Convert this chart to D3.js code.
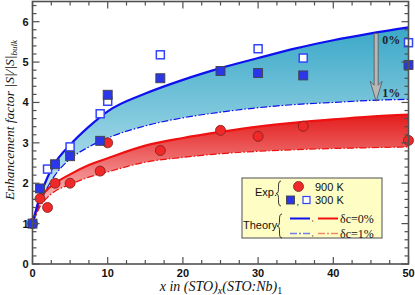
<!DOCTYPE html>
<html>
<head>
<meta charset="utf-8">
<script src="https://cdn.jsdelivr.net/npm/d3@7"></script>
<style>
  body { margin: 0; background: white; }
  svg { display: block; }
</style>
</head>
<body>
<div id="main"></div>
<script>
// measured points
const x900 = [0, 1, 2, 3, 5, 9, 10, 17, 25, 30, 36, 50];
const y900 = [1.0, 1.62, 1.4, 2.0, 2.0, 2.3, 3.0, 2.81, 3.31, 3.16, 3.41, 3.06];
const x300filled = [0, 1, 3, 5, 9, 10, 17, 25, 30, 36, 50];
const y300filled = [1.0, 1.87, 2.47, 2.67, 3.05, 4.19, 4.6, 4.78, 4.73, 4.67, 4.93];
const x300open = [2, 5, 9, 10, 17, 30, 36, 50];
const y300open = [2.35, 2.9, 3.72, 4.03, 5.18, 5.33, 5.1, 5.48];

// theory curves
const xTheory = [0, 1, 2, 3, 5, 7.5, 10, 15, 20, 25, 30, 35, 40, 45, 50];
const blue0 = [1.0, 1.68, 2.15, 2.5, 2.95, 3.4, 3.78, 4.22, 4.56, 4.85, 5.1, 5.34, 5.54, 5.71, 5.86];
const blue1 = [1.0, 1.5, 1.9, 2.2, 2.6, 2.9, 3.12, 3.42, 3.62, 3.76, 3.87, 3.95, 4.0, 4.05, 4.08];
const red0 = [1.0, 1.6, 1.85, 2.0, 2.22, 2.45, 2.62, 2.93, 3.12, 3.27, 3.4, 3.5, 3.58, 3.65, 3.7];
const red1 = [1.0, 1.42, 1.65, 1.8, 1.97, 2.15, 2.28, 2.52, 2.64, 2.73, 2.79, 2.83, 2.86, 2.88, 2.9];

const xTicks = [0, 10, 20, 30, 40, 50];
const yTicks = [0, 1, 2, 3, 4, 5, 6];
const arrowX = 45.7;
const arrowLabels = ["0%", "1%"];

const ctx = {
    width: 415,
    height: 295,
    frame: "#505050",
    blue: "#1010ee",
    red: "#ee1111"
};

function createViz(){
    let svg = d3.select("#main").append("svg")
        .attr("width", ctx.width)
        .attr("height", ctx.height)
        .style("font-family", "'Liberation Sans', Arial, sans-serif");

    let x = d3.scaleLinear().domain([0, 50]).range([32.5, 408.5]);
    let y = d3.scaleLinear().domain([0, 6.5]).range([264, 1.5]);

    let defs = svg.append("defs");
    let gb = defs.append("linearGradient").attr("id", "gradBlue")
        .attr("x1", 0).attr("y1", 0).attr("x2", 0).attr("y2", 1);
    gb.append("stop").attr("offset", "0%").attr("stop-color", "#3aa8c8");
    gb.append("stop").attr("offset", "100%").attr("stop-color", "#d8f0f6");
    let gr = defs.append("linearGradient").attr("id", "gradRed")
        .attr("x1", 0).attr("y1", 0).attr("x2", 0).attr("y2", 1);
    gr.append("stop").attr("offset", "0%").attr("stop-color", "#e41c1c");
    gr.append("stop").attr("offset", "100%").attr("stop-color", "#fde0e0");

    // bands
    let band = (top, bot) => d3.area()
        .x((d, i) => x(xTheory[i]))
        .y0((d, i) => y(bot[i]))
        .y1((d, i) => y(top[i]))
        .curve(d3.curveMonotoneX)(xTheory);
    svg.append("path").attr("d", band(blue0, blue1)).attr("fill", "url(#gradBlue)");
    svg.append("path").attr("d", band(red0, red1)).attr("fill", "url(#gradRed)");

    let line = (vals) => d3.line()
        .x((d, i) => x(xTheory[i]))
        .y((d, i) => y(vals[i]))
        .curve(d3.curveMonotoneX)(xTheory);
    svg.append("path").attr("d", line(blue1)).attr("fill", "none")
        .attr("stroke", ctx.blue).attr("stroke-width", 1.2).attr("stroke-dasharray", "7,2,1.5,2");
    svg.append("path").attr("d", line(red1)).attr("fill", "none")
        .attr("stroke", ctx.red).attr("stroke-width", 1.2).attr("stroke-dasharray", "7,2,1.5,2");
    svg.append("path").attr("d", line(red0)).attr("fill", "none")
        .attr("stroke", ctx.red).attr("stroke-width", 2.2);
    svg.append("path").attr("d", line(blue0)).attr("fill", "none")
        .attr("stroke", ctx.blue).attr("stroke-width", 2.2);

    // arrow between 0% and 1%
    let ia = d3.bisectLeft(xTheory, arrowX);
    let t = (arrowX - xTheory[ia - 1]) / (xTheory[ia] - xTheory[ia - 1]);
    let yTop = blue0[ia - 1] + t * (blue0[ia] - blue0[ia - 1]);
    let yBot = blue1[ia - 1] + t * (blue1[ia] - blue1[ia - 1]);
    let ax = x(arrowX), a0 = y(yTop) + 1, a1 = y(yBot) + 1;
    let arrow = svg.append("g");
    arrow.append("path")
        .attr("d", `M${ax - 2},${a0} L${ax + 2},${a0} L${ax + 2},${a1 - 16} L${ax + 6},${a1 - 20} L${ax},${a1} L${ax - 6},${a1 - 20} L${ax - 2},${a1 - 16} Z`)
        .attr("fill", "#b8b8b8").attr("stroke", "#555").attr("stroke-width", 0.8);
    arrow.selectAll("text").data(arrowLabels).enter().append("text")
        .attr("x", ax + 6)
        .attr("y", (d, i) => i == 0 ? a0 + 10 : a1 - 4)
        .text(d => d)
        .attr("font-family", "'Liberation Serif', 'Times New Roman', serif")
        .attr("font-weight", "bold")
        .attr("font-size", "12px")
        .attr("fill", "#222");

    // points
    svg.selectAll(".c900").data(x900).enter().append("circle")
        .attr("cx", d => x(d)).attr("cy", (d, i) => y(y900[i])).attr("r", 5)
        .attr("fill", "#f02828").attr("stroke", "#7a2020").attr("stroke-width", 0.8);
    svg.selectAll(".o300").data(x300open).enter().append("rect")
        .attr("x", d => x(d) - 4).attr("y", (d, i) => y(y300open[i]) - 4)
        .attr("width", 8).attr("height", 8)
        .attr("fill", "white").attr("stroke", "#3344ff").attr("stroke-width", 1.5);
    svg.selectAll(".f300").data(x300filled).enter().append("rect")
        .attr("x", d => x(d) - 4.5).attr("y", (d, i) => y(y300filled[i]) - 4.5)
        .attr("width", 9).attr("height", 9)
        .attr("fill", "#2a36e8").attr("stroke", "#444").attr("stroke-width", 0.9);

    // frame and ticks
    let axG = svg.append("g").attr("stroke", ctx.frame);
    axG.append("rect").attr("x", x(0)).attr("y", y(6.5))
        .attr("width", x(50) - x(0)).attr("height", y(0) - y(6.5))
        .attr("fill", "none").attr("stroke-width", 1.6);
    let xMinor = d3.range(0, 50.01, 2.5);
    let yMinor = d3.range(0, 6.5, 0.2);
    xMinor.forEach(v => {
        let len = (v % 10 == 0) ? 7 : 4;
        axG.append("line").attr("x1", x(v)).attr("x2", x(v)).attr("y1", y(0)).attr("y2", y(0) - len).attr("stroke-width", 1.2);
        axG.append("line").attr("x1", x(v)).attr("x2", x(v)).attr("y1", y(6.5)).attr("y2", y(6.5) + len).attr("stroke-width", 1.2);
    });
    yMinor.forEach(v => {
        let len = (Math.abs(v - Math.round(v)) < 1e-6) ? 7 : 4;
        axG.append("line").attr("y1", y(v)).attr("y2", y(v)).attr("x1", x(0)).attr("x2", x(0) + len).attr("stroke-width", 1.2);
        axG.append("line").attr("y1", y(v)).attr("y2", y(v)).attr("x1", x(50)).attr("x2", x(50) - len).attr("stroke-width", 1.2);
    });

    svg.selectAll(".xtl").data(xTicks).enter().append("text")
        .attr("x", d => x(d)).attr("y", 277)
        .attr("text-anchor", "middle")
        .attr("font-weight", "bold").attr("font-size", "11px").attr("fill", "#111")
        .text(d => d);
    svg.selectAll(".ytl").data(yTicks).enter().append("text")
        .attr("x", 28.5).attr("y", d => y(d) + 4)
        .attr("text-anchor", "end")
        .attr("font-weight", "bold").attr("font-size", "11px").attr("fill", "#111")
        .text(d => d);

    // axis titles
    let serif = "'Liberation Serif', 'Times New Roman', serif";
    let xl = svg.append("text").attr("x", 221).attr("y", 291)
        .attr("text-anchor", "middle").attr("font-family", serif)
        .attr("font-style", "italic").attr("font-size", "14px").attr("fill", "#111");
    xl.append("tspan").text("x in (STO)");
    xl.append("tspan").attr("font-size", "10px").attr("dy", 3).text("x");
    xl.append("tspan").attr("dy", -3).text("(STO:Nb)");
    xl.append("tspan").attr("font-size", "10px").attr("dy", 3).attr("font-style", "normal").text("1");

    let yl = svg.append("text").attr("transform", "translate(14,120) rotate(-90)")
        .attr("text-anchor", "middle").attr("font-family", serif)
        .attr("font-style", "italic").attr("font-size", "13.5px").attr("fill", "#111");
    yl.append("tspan").text("Enhancement factor |S|/|S|");
    yl.append("tspan").attr("font-size", "9px").attr("dy", 3).text("bulk");

    drawLegend(svg);
}

function brace(x0, yA, yB, w){
    let ym = (yA + yB) / 2;
    return `M${x0 + w},${yA} C${x0},${yA} ${x0 + w},${ym} ${x0},${ym} C${x0 + w},${ym} ${x0},${yB} ${x0 + w},${yB}`;
}

function drawLegend(svg){
    let g = svg.append("g");
    g.append("rect").attr("x", 242).attr("y", 178).attr("width", 140).attr("height", 60)
        .attr("fill", "#fdfdc4").attr("stroke", "#777").attr("stroke-width", 1.3);
    g.append("text").attr("x", 255).attr("y", 196).attr("font-size", "11px").attr("fill", "#111").text("Exp.");
    g.append("path").attr("d", brace(276, 181, 206, 5)).attr("fill", "none").attr("stroke", "#222").attr("stroke-width", 0.9);
    g.append("circle").attr("cx", 298.5).attr("cy", 186.5).attr("r", 5)
        .attr("fill", "#f02828").attr("stroke", "#7a2020").attr("stroke-width", 0.8);
    g.append("text").attr("x", 315).attr("y", 190.5).attr("font-size", "11px").attr("fill", "#111").text("900 K");
    g.append("rect").attr("x", 286.5).attr("y", 196).attr("width", 8).attr("height", 8)
        .attr("fill", "#2a36e8").attr("stroke", "#444").attr("stroke-width", 0.9);
    g.append("text").attr("x", 296.5).attr("y", 205).attr("font-size", "9px").attr("fill", "#111").text(",");
    g.append("rect").attr("x", 303).attr("y", 196.5).attr("width", 7).attr("height", 7)
        .attr("fill", "white").attr("stroke", "#3344ff").attr("stroke-width", 1.2);
    g.append("text").attr("x", 315).attr("y", 204).attr("font-size", "11px").attr("fill", "#111").text("300 K");

    g.append("text").attr("x", 243).attr("y", 229).attr("font-size", "11px").attr("fill", "#111").text("Theory");
    g.append("path").attr("d", brace(277, 214, 238, 5)).attr("fill", "none").attr("stroke", "#222").attr("stroke-width", 0.9);
    let serif = "'Liberation Serif', 'Times New Roman', serif";
    g.append("line").attr("x1", 290).attr("x2", 310).attr("y1", 218.5).attr("y2", 218.5).attr("stroke", ctx.blue).attr("stroke-width", 2);
    g.append("text").attr("x", 311.5).attr("y", 221).attr("font-size", "8px").attr("fill", "#111").text(",");
    g.append("line").attr("x1", 318).attr("x2", 338).attr("y1", 218.5).attr("y2", 218.5).attr("stroke", ctx.red).attr("stroke-width", 2);
    g.append("text").attr("x", 340).attr("y", 222.5).attr("font-family", serif).attr("font-size", "12px").attr("fill", "#111").text("δc=0%");
    g.append("line").attr("x1", 290).attr("x2", 310).attr("y1", 233.5).attr("y2", 233.5).attr("stroke", "#6f7ff0").attr("stroke-width", 1.5).attr("stroke-dasharray", "7,2,2,2");
    g.append("text").attr("x", 311.5).attr("y", 236).attr("font-size", "8px").attr("fill", "#111").text(",");
    g.append("line").attr("x1", 318).attr("x2", 338).attr("y1", 233.5).attr("y2", 233.5).attr("stroke", "#f08a6a").attr("stroke-width", 1.5).attr("stroke-dasharray", "7,2,2,2");
    g.append("text").attr("x", 340).attr("y", 237.5).attr("font-family", serif).attr("font-size", "12px").attr("fill", "#111").text("δc=1%");
}

createViz();
</script>
</body>
</html>
